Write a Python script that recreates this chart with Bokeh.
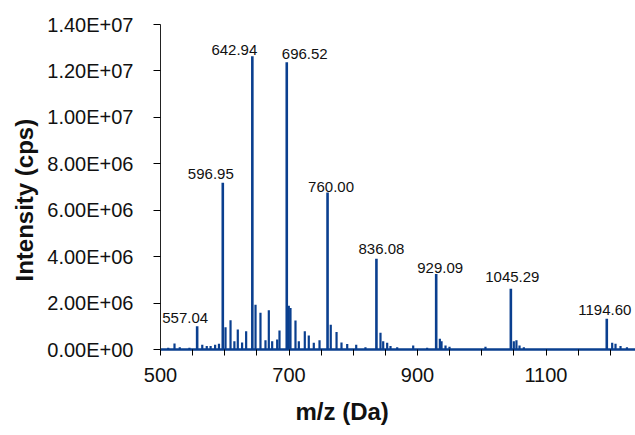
from bokeh.plotting import figure
from bokeh.models import FixedTicker, Title, ColumnDataSource
from bokeh.embed import file_html
from bokeh.resources import INLINE
from bokeh.core.properties import value

# ---------------- data ----------------
# labelled main peaks
peak_mz = [557.04, 596.95, 642.94, 696.52, 760.00, 836.08, 929.09, 1045.29, 1194.60]
peak_int = [1.00e6, 7.18e6, 12.63e6, 12.37e6, 6.76e6, 3.91e6, 3.25e6, 2.62e6, 1.32e6]
peak_text = ["557.04", "596.95", "642.94", "696.52", "760.00", "836.08", "929.09", "1045.29", "1194.60"]

# minor peaks / isotopes / baseline noise
minor_mz = [512.0, 521.8, 530.0, 545.0, 565.0, 572.0, 578.0, 585.0, 591.0,
            601.2, 609.0, 615.0, 620.3, 627.0, 633.3, 647.9, 655.6, 663.4, 668.6,
            673.8, 681.6, 685.2, 699.7, 702.3, 710.1, 715.3, 724.6, 730.8, 738.6,
            747.5, 765.0, 774.0, 781.7, 790.6, 804.6, 819.0,
            842.4, 846.6, 852.8, 858.0, 868.4, 893.3, 915.0,
            934.8, 937.4, 943.6, 949.8, 1005.8,
            1049.9, 1054.0, 1058.8, 1065.5,
            1203.0, 1208.2, 1216.0, 1226.0]
minor_int = [0.08e6, 0.26e6, 0.10e6, 0.08e6, 0.20e6, 0.15e6, 0.15e6, 0.20e6, 0.25e6,
             0.96e6, 1.26e6, 0.36e6, 0.86e6, 0.30e6, 0.79e6, 1.93e6, 1.58e6, 0.40e6, 1.69e6,
             0.36e6, 0.43e6, 0.82e6, 1.89e6, 1.79e6, 1.25e6, 0.36e6, 0.79e6, 0.60e6, 0.29e6,
             0.40e6, 1.07e6, 0.75e6, 0.30e6, 0.24e6, 0.20e6, 0.10e6,
             0.72e6, 0.36e6, 0.29e6, 0.15e6, 0.10e6, 0.17e6, 0.08e6,
             0.46e6, 0.36e6, 0.17e6, 0.12e6, 0.12e6,
             0.36e6, 0.40e6, 0.17e6, 0.10e6,
             0.29e6, 0.25e6, 0.15e6, 0.10e6]

y_ticks = [0, 2000000, 4000000, 6000000, 8000000, 10000000, 12000000, 14000000]
y_tick_labels = ["0.00E+00", "2.00E+06", "4.00E+06", "6.00E+06", "8.00E+06",
                 "1.00E+07", "1.20E+07", "1.40E+07"]
x_ticks = [500, 700, 900, 1100]
x_minor_ticks = [550, 600, 650, 750, 800, 850, 950, 1000, 1050, 1150, 1200]

x_title = "m/z (Da)"
y_title = "Intensity (cps)"

# ---------------- layout / style ----------------
BLUE = "#0a3f8f"
FONT = "Liberation Sans"
W, H = 635, 435
LEFT, TOP, BOTTOM, RIGHT = 160, 24, 85, 0
FRAME_W = W - LEFT - RIGHT
X0 = 500.0
PX_PER_DA = 0.6425
X1 = X0 + FRAME_W / PX_PER_DA
Y0, Y1 = 0.0, 1.4e7

# label offsets in pixels (dx, gap above peak top)
lab_dx = [-12, -12, -18, 18, 3.5, 5, 4, 1.5, -2]
lab_gap = [8.7, 8.7, 6, 8.7, 6, 10, 6.3, 11.7, 9.3]

p = figure(width=W, height=H, x_range=(X0, X1), y_range=(Y0, Y1),
           output_backend="svg", toolbar_location=None,
           min_border_left=LEFT, min_border_right=RIGHT,
           min_border_top=TOP, min_border_bottom=BOTTOM)
p.outline_line_color = None
p.xgrid.visible = False
p.ygrid.visible = False
p.background_fill_color = "white"
p.border_fill_color = "white"

# sticks
p.segment(x0=minor_mz, y0=[0] * len(minor_mz), x1=minor_mz, y1=minor_int,
          line_color=BLUE, line_width=2.2)
p.segment(x0=peak_mz, y0=[0] * len(peak_mz), x1=peak_mz, y1=peak_int,
          line_color=BLUE, line_width=2.6)

# peak labels
src = ColumnDataSource(dict(x=peak_mz, y=peak_int, t=peak_text,
                            dx=lab_dx, dy=[-g for g in lab_gap]))
p.text(x="x", y="y", text="t", x_offset="dx", y_offset="dy", source=src,
       text_font=value(FONT), text_font_size="15px", text_color="#111111",
       text_align="center", text_baseline="alphabetic")

# axes
xa = p.xaxis[0]
xa.ticker = FixedTicker(ticks=x_ticks, minor_ticks=x_minor_ticks)
xa.axis_line_color = BLUE
xa.axis_line_width = 2.5
xa.major_tick_line_color = "black"
xa.minor_tick_line_color = "black"
xa.major_tick_out = 6
xa.major_tick_in = 0
xa.minor_tick_out = 6
xa.minor_tick_in = 0
xa.major_label_text_font = FONT
xa.major_label_text_font_size = "20px"
xa.major_label_text_color = "#111111"
xa.major_label_standoff = 12

ya = p.yaxis[0]
ya.ticker = FixedTicker(ticks=y_ticks)
ya.major_label_overrides = {t: l for t, l in zip(y_ticks, y_tick_labels)}
ya.axis_line_color = "#222222"
ya.major_tick_line_color = "black"
ya.major_tick_out = 7
ya.major_tick_in = 0
ya.minor_tick_line_color = None
ya.major_label_text_font = FONT
ya.major_label_text_font_size = "20px"
ya.major_label_text_color = "#111111"
ya.major_label_standoff = 20

# axis titles as side titles (shifted to match the reference)
p.add_layout(Title(text=x_title, align="left", offset=135, standoff=22,
                   text_baseline="alphabetic",
                   text_font=FONT, text_font_size="24px", text_font_style="bold",
                   text_color="#111111"), "below")
p.add_layout(Title(text=y_title, align="left", offset=68, standoff=13,
                   text_font=FONT, text_font_size="24px", text_font_style="bold",
                   text_color="#111111"), "left")

open("out.html", "w").write(file_html(p, INLINE))
